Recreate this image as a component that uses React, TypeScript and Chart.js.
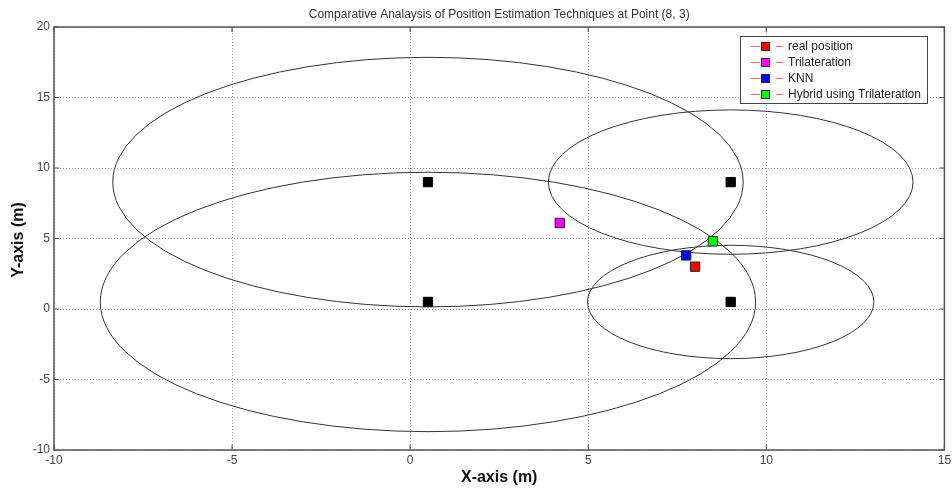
import React, { useEffect, useRef } from "react";
import { Chart, registerables } from "chart.js";

Chart.register(...registerables);

const TITLE = "Comparative Analaysis of Position Estimation Techniques at Point (8, 3)";
const X_LABEL = "X-axis (m)";
const Y_LABEL = "Y-axis (m)";

// anchor nodes (black squares) and their range circles
const anchorX = [0.5, 9, 0.5, 9];
const anchorY = [9, 9, 0.5, 0.5];
const anchorRange = [8.85, 5.12, 9.2, 4.02];

// estimated positions
const seriesLabels = ["real position", "Trilateration", "KNN", "Hybrid using Trilateration"];
const seriesX = [8, 4.2, 7.75, 8.5];
const seriesY = [3, 6.1, 3.8, 4.8];
const seriesColors = ["#ff0000", "#ff00ff", "#0000ff", "#00ff00"];

const xMin = -10, xMax = 15, yMin = -10, yMax = 20, step = 5;

const FONT = "'Liberation Sans', Arial, Helvetica, sans-serif";

export default function App() {
  const ref = useRef<HTMLCanvasElement | null>(null);

  useEffect(() => {
    document.body.style.margin = "0";
    const canvas = ref.current;
    if (!canvas) return;

    const overlay = {
      id: "matlabOverlay",
      beforeDatasetsDraw(chart: any) {
        const { ctx, chartArea, scales } = chart;
        const xs = scales.x, ys = scales.y;
        ctx.save();
        ctx.beginPath();
        ctx.rect(chartArea.left, chartArea.top, chartArea.right - chartArea.left, chartArea.bottom - chartArea.top);
        ctx.clip();
        ctx.strokeStyle = "#333";
        ctx.lineWidth = 1;
        for (let i = 0; i < anchorX.length; i++) {
          const cx = xs.getPixelForValue(anchorX[i]);
          const cy = ys.getPixelForValue(anchorY[i]);
          const rx = Math.abs(xs.getPixelForValue(anchorX[i] + anchorRange[i]) - cx);
          const ry = Math.abs(ys.getPixelForValue(anchorY[i] + anchorRange[i]) - cy);
          ctx.beginPath();
          ctx.ellipse(cx, cy, rx, ry, 0, 0, Math.PI * 2);
          ctx.stroke();
        }
        ctx.restore();
      },
      afterDraw(chart: any) {
        const { ctx, chartArea, scales } = chart;
        const { left, right, top, bottom } = chartArea;
        const xs = scales.x, ys = scales.y;
        ctx.save();
        // frame
        ctx.strokeStyle = "#555";
        ctx.lineWidth = 1.5;
        ctx.strokeRect(left, top, right - left, bottom - top);
        // inner ticks
        ctx.lineWidth = 1.2;
        const tl = 5;
        xs.ticks.forEach((t: any) => {
          const px = xs.getPixelForValue(t.value);
          ctx.beginPath();
          ctx.moveTo(px, bottom); ctx.lineTo(px, bottom - tl);
          ctx.moveTo(px, top); ctx.lineTo(px, top + tl);
          ctx.stroke();
        });
        ys.ticks.forEach((t: any) => {
          const py = ys.getPixelForValue(t.value);
          ctx.beginPath();
          ctx.moveTo(left, py); ctx.lineTo(left + tl, py);
          ctx.moveTo(right, py); ctx.lineTo(right - tl, py);
          ctx.stroke();
        });
        // title
        const cxm = (left + right) / 2;
        ctx.fillStyle = "#333";
        ctx.font = `12px ${FONT}`;
        ctx.textAlign = "center";
        ctx.textBaseline = "middle";
        ctx.fillText(TITLE, cxm, 15);
        // axis labels
        ctx.fillStyle = "#111";
        ctx.font = `bold 16px ${FONT}`;
        ctx.fillText(X_LABEL, cxm, 478);
        ctx.save();
        ctx.translate(19, 240);
        ctx.rotate(-Math.PI / 2);
        ctx.fillText(Y_LABEL, 0, 0);
        ctx.restore();
        // legend
        const lx = 740, ly = 36, lw = 187, lh = 67;
        ctx.fillStyle = "#fff";
        ctx.fillRect(lx, ly, lw, lh);
        ctx.strokeStyle = "#444";
        ctx.lineWidth = 1;
        ctx.strokeRect(lx + 0.5, ly + 0.5, lw, lh);
        ctx.font = `12px ${FONT}`;
        ctx.textAlign = "left";
        for (let i = 0; i < seriesLabels.length; i++) {
          const y = 46 + i * 16;
          ctx.strokeStyle = "rgba(215,60,60,0.75)";
          ctx.lineWidth = 1;
          ctx.beginPath();
          ctx.moveTo(751, y + 0.5); ctx.lineTo(760, y + 0.5);
          ctx.moveTo(776, y + 0.5); ctx.lineTo(783, y + 0.5);
          ctx.stroke();
          ctx.fillStyle = seriesColors[i];
          ctx.fillRect(761, y - 4, 9, 9);
          ctx.strokeStyle = "#222";
          ctx.strokeRect(761.5, y - 3.5, 8, 8);
          ctx.fillStyle = "#222";
          ctx.fillText(seriesLabels[i], 788, y + 1);
        }
        ctx.restore();
      },
    };

    const datasets: any[] = [
      {
        label: "anchors",
        data: anchorX.map((x, i) => ({ x, y: anchorY[i] })),
        pointStyle: "rect",
        pointRadius: 6.6,
        backgroundColor: "#000",
        borderColor: "#000",
        borderWidth: 1,
        showLine: false,
      },
      ...seriesLabels.map((label, i) => ({
        label,
        data: [{ x: seriesX[i], y: seriesY[i] }],
        pointStyle: "rect",
        pointRadius: 6.6,
        backgroundColor: seriesColors[i],
        borderColor: "#222",
        borderWidth: 1,
        showLine: false,
      })),
    ];

    const chart = new Chart(canvas, {
      type: "scatter",
      data: { datasets },
      plugins: [overlay],
      options: {
        responsive: false,
        animation: false,
        layout: { padding: { left: 0, top: 27, right: 6, bottom: 0 } },
        plugins: {
          legend: { display: false },
          title: { display: false },
          tooltip: { enabled: false },
        },
        scales: {
          x: {
            type: "linear",
            min: xMin,
            max: xMax,
            ticks: {
              stepSize: step,
              padding: 3,
              color: "#444",
              font: { family: FONT, size: 12 },
              maxRotation: 0,
            },
            grid: { color: "#999", lineWidth: 1, drawTicks: false },
            border: { display: false, dash: [1, 2] },
            afterFit(scale: any) {
              scale.height = 39;
              scale.paddingRight = 0;
              scale.paddingLeft = 0;
            },
          },
          y: {
            type: "linear",
            min: yMin,
            max: yMax,
            ticks: {
              stepSize: step,
              padding: 4,
              color: "#444",
              font: { family: FONT, size: 12 },
            },
            grid: { color: "#999", lineWidth: 1, drawTicks: false },
            border: { display: false, dash: [1, 2] },
            afterFit(scale: any) {
              scale.width = 54;
              scale.paddingTop = 0;
              scale.paddingBottom = 0;
            },
          },
        },
      },
    });
    return () => chart.destroy();
  }, []);

  return (
    <div style={{ width: 952, height: 489, background: "#fff" }}>
      <canvas ref={ref} width={952} height={489} style={{ display: "block" }} />
    </div>
  );
}
